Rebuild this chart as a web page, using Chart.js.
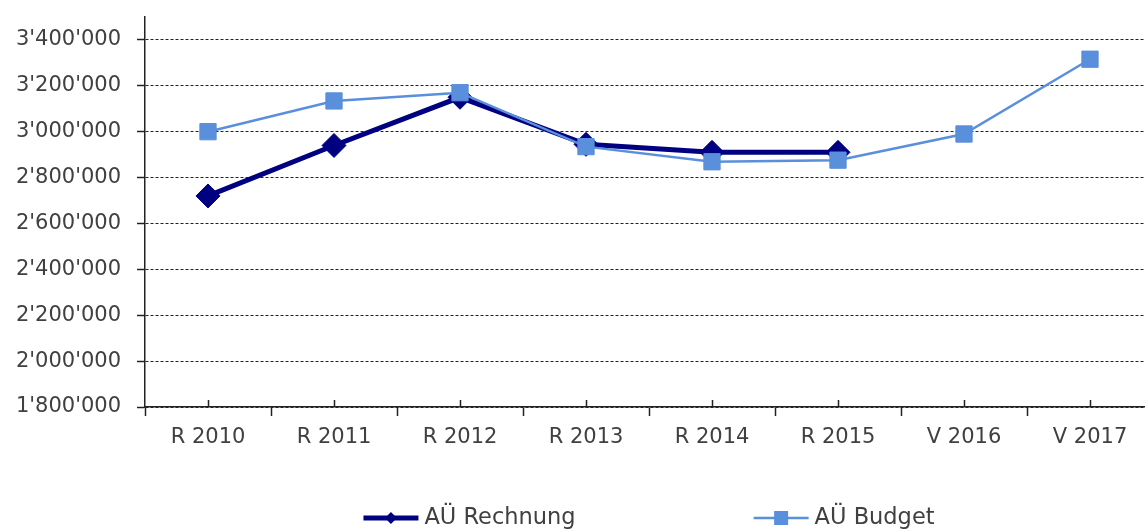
<!DOCTYPE html>
<html>
<head>
<meta charset="utf-8">
<script src="https://cdn.jsdelivr.net/npm/chart.js"></script>
<style>
  html, body { margin: 0; padding: 0; background: #ffffff; overflow: hidden; }
  #wrap { width: 1145px; height: 531px; overflow: hidden; position: relative; }
  canvas { display: block; }
</style>
</head>
<body>
<div id="wrap"><canvas id="c" width="1154" height="531"></canvas></div>
<script>
const categories = ['R 2010', 'R 2011', 'R 2012', 'R 2013', 'R 2014', 'R 2015', 'V 2016', 'V 2017'];
const rechnungValues = [2720000, 2940000, 3150000, 2945000, 2910000, 2910000, null, null];
const budgetValues = [3000000, 3134000, 3170000, 2935000, 2869000, 2876000, 2990000, 3316000];
const yTickValues = [1800000, 2000000, 2200000, 2400000, 2600000, 2800000, 3000000, 3200000, 3400000];
const seriesNames = ['AÜ Rechnung', 'AÜ Budget'];

const FONT = '"DejaVu Sans", "Liberation Sans", sans-serif';
const TEXT = '#404040';
const AXIS = '#222222';

function fmt(v) {
  return String(v).replace(/\B(?=(\d{3})+(?!\d))/g, "'");
}

const centerTicks = {
  id: 'centerTicks',
  afterDatasetsDraw(chart) {
    const x = chart.scales.x, ctx = chart.ctx;
    ctx.save();
    ctx.strokeStyle = AXIS;
    ctx.lineWidth = 1.5;
    ctx.beginPath();
    for (let i = 0; i < categories.length; i++) {
      const px = Math.round(x.getPixelForValue(i)) + 0.5;
      ctx.moveTo(px, x.top);
      ctx.lineTo(px, x.top - 7);
    }
    ctx.stroke();
    ctx.restore();
  }
};

const lineLegend = {
  id: 'lineLegend',
  afterDraw(chart) {
    const ctx = chart.ctx;
    const area = chart.chartArea;
    ctx.save();
    ctx.font = '22.5px ' + FONT;
    ctx.textBaseline = 'middle';
    ctx.textAlign = 'left';
    const sampleW = 55, gap = 6, spacing = 178;
    const order = [1, 0];
    const items = order.map(i => {
      const ds = chart.data.datasets[i];
      return { ds, w: ctx.measureText(ds.label).width };
    });
    let total = 0;
    items.forEach((it, k) => { total += sampleW + gap + it.w + (k < items.length - 1 ? spacing : 0); });
    let x = (area.left + area.right) / 2 - total / 2;
    const y = 518;
    items.forEach(it => {
      const ds = it.ds;
      ctx.strokeStyle = ds.borderColor;
      ctx.lineWidth = ds.borderWidth;
      ctx.beginPath();
      ctx.moveTo(x, y);
      ctx.lineTo(x + sampleW, y);
      ctx.stroke();
      const cx = x + sampleW / 2;
      ctx.fillStyle = ds.pointBackgroundColor;
      ctx.beginPath();
      if (ds.pointStyle === 'rectRot') {
        const r = 6;
        ctx.moveTo(cx - r, y); ctx.lineTo(cx, y - r); ctx.lineTo(cx + r, y); ctx.lineTo(cx, y + r);
      } else {
        const s = 7;
        ctx.rect(cx - s, y - s, 2 * s, 2 * s);
      }
      ctx.closePath();
      ctx.fill();
      ctx.fillStyle = TEXT;
      ctx.fillText(ds.label, x + sampleW + gap, y);
      x += sampleW + gap + it.w + spacing;
    });
    ctx.restore();
  }
};

new Chart(document.getElementById('c'), {
  type: 'line',
  data: {
    labels: categories,
    datasets: [
      {
        label: seriesNames[1],
        data: budgetValues,
        borderColor: '#5a8fdc',
        backgroundColor: '#5a8fdc',
        pointBackgroundColor: '#5a8fdc',
        pointBorderColor: '#5a8fdc',
        borderWidth: 2.5,
        pointStyle: 'rect',
        pointRadius: 11.5,
        pointBorderWidth: 1,
        tension: 0,
        fill: false
      },
      {
        label: seriesNames[0],
        data: rechnungValues,
        borderColor: '#000080',
        backgroundColor: '#000080',
        pointBackgroundColor: '#000080',
        pointBorderColor: '#000080',
        borderWidth: 5,
        pointStyle: 'rectRot',
        pointRadius: 12,
        pointBorderWidth: 1,
        tension: 0,
        fill: false,
        spanGaps: false
      }
    ]
  },
  options: {
    responsive: false,
    devicePixelRatio: 1,
    animation: false,
    layout: { autoPadding: false, padding: { top: 17, left: 0, right: 1, bottom: 84 } },
    plugins: {
      legend: { display: false },
      tooltip: { enabled: false }
    },
    scales: {
      x: {
        type: 'category',
        offset: true,
        grid: {
          display: true,
          offset: true,
          drawOnChartArea: false,
          drawTicks: true,
          tickLength: 9,
          tickColor: AXIS,
          tickWidth: 1.5
        },
        border: { display: true, color: AXIS, width: 1.5 },
        ticks: {
          color: TEXT,
          font: { family: FONT, size: 21 },
          padding: 9,
          maxRotation: 0,
          autoSkip: false
        },
        afterFit(scale) {
          scale.height = 40;
          scale.paddingLeft = 0; scale.paddingRight = 0;
          scale.paddingTop = 0; scale.paddingBottom = 0;
        }
      },
      y: {
        min: 1800000,
        max: 3500000,
        afterBuildTicks(scale) {
          scale.ticks = yTickValues.map(v => ({ value: v }));
        },
        afterFit(scale) {
          scale.width = 145;
          scale.paddingTop = 0; scale.paddingBottom = 0;
          scale.paddingLeft = 0; scale.paddingRight = 0;
        },
        grid: {
          color: '#222222',
          lineWidth: 1,
          drawTicks: true,
          tickLength: 8,
          tickColor: AXIS,
          tickWidth: 1.5,
          tickBorderDash: []
        },
        border: { display: true, color: AXIS, width: 1.5, dash: [3, 2] },
        ticks: {
          color: TEXT,
          font: { family: FONT, size: 21 },
          padding: 16,
          callback: (v) => fmt(v)
        }
      }
    }
  },
  plugins: [centerTicks, lineLegend]
});
</script>
</body>
</html>
